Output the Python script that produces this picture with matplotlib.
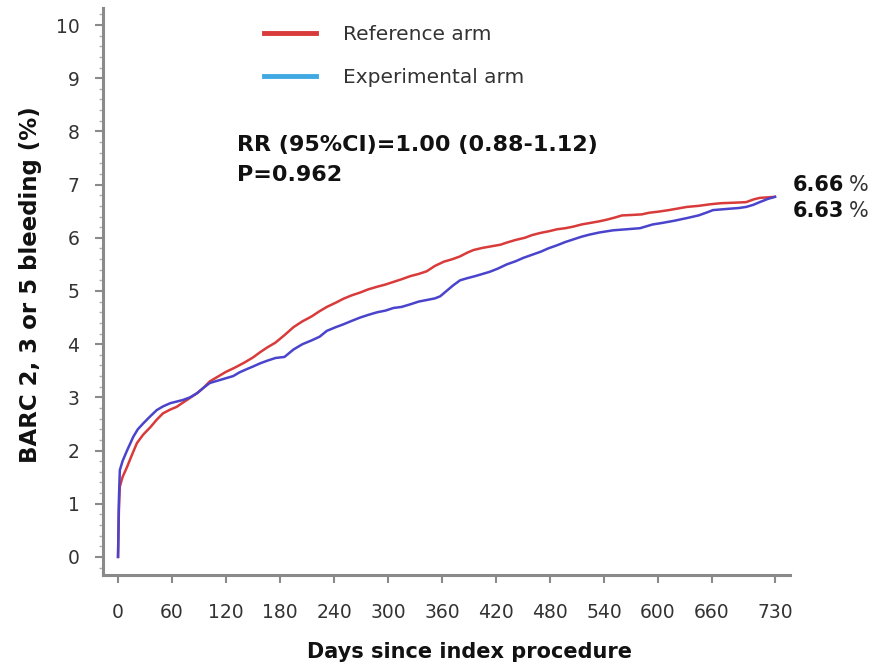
import matplotlib
matplotlib.use("Agg")
import matplotlib.pyplot as plt
from matplotlib.lines import Line2D
from matplotlib.ticker import MultipleLocator

# ---- data ----
ref_days = [0, 1, 2, 5, 10, 15, 21, 28, 36, 43, 50, 58, 65, 72, 80, 88, 95, 102, 110, 120,
            130, 140, 150, 158, 166, 175, 185, 195, 205, 215, 224, 232, 242, 250, 260, 269,
            278, 288, 297, 306, 315, 325, 334, 343, 352, 362, 372, 380, 388, 395, 405, 415,
            425, 432, 442, 452, 460, 469, 478, 488, 497, 506, 515, 525, 535, 543, 552, 560,
            572, 582, 590, 600, 612, 622, 632, 645, 658, 670, 685, 698, 706, 713, 722, 730]
ref_vals = [0, 0.9, 1.32, 1.5, 1.69, 1.9, 2.14, 2.3, 2.44, 2.58, 2.7, 2.77, 2.82, 2.9, 2.99,
            3.08, 3.18, 3.3, 3.38, 3.48, 3.56, 3.65, 3.75, 3.85, 3.94, 4.03, 4.17, 4.32, 4.43,
            4.52, 4.62, 4.7, 4.78, 4.85, 4.92, 4.97, 5.03, 5.08, 5.12, 5.17, 5.22, 5.28, 5.32,
            5.37, 5.47, 5.55, 5.6, 5.65, 5.72, 5.77, 5.81, 5.84, 5.87, 5.91, 5.96, 6.0, 6.05,
            6.09, 6.12, 6.16, 6.18, 6.21, 6.25, 6.28, 6.31, 6.34, 6.38, 6.42, 6.43, 6.44, 6.47,
            6.49, 6.52, 6.55, 6.58, 6.6, 6.63, 6.65, 6.66, 6.67, 6.72, 6.75, 6.76, 6.77]

exp_days = [0, 1, 2, 5, 10, 17, 22, 28, 35, 43, 50, 58, 65, 72, 80, 88, 95, 102, 110, 120,
            128, 135, 143, 150, 158, 166, 175, 185, 195, 205, 215, 224, 232, 242, 250, 260,
            269, 278, 288, 297, 306, 315, 325, 334, 343, 352, 358, 365, 372, 380, 388, 397,
            405, 413, 422, 432, 442, 450, 460, 470, 478, 488, 497, 506, 515, 524, 535, 550,
            565, 580, 594, 605, 618, 632, 645, 655, 661, 675, 690, 698, 706, 713, 722, 730]
exp_vals = [0, 1.1, 1.63, 1.8, 2.0, 2.26, 2.4, 2.51, 2.63, 2.76, 2.83, 2.89, 2.92, 2.95, 3.0,
            3.08, 3.18, 3.27, 3.31, 3.36, 3.4, 3.47, 3.53, 3.58, 3.64, 3.69, 3.74, 3.76, 3.9,
            4.0, 4.07, 4.14, 4.25, 4.32, 4.37, 4.44, 4.5, 4.55, 4.6, 4.63, 4.68, 4.7, 4.75,
            4.8, 4.83, 4.86, 4.9, 5.0, 5.1, 5.2, 5.24, 5.28, 5.32, 5.36, 5.42, 5.5, 5.56, 5.62,
            5.68, 5.74, 5.8, 5.86, 5.92, 5.97, 6.02, 6.06, 6.1, 6.14, 6.16, 6.18, 6.25, 6.28,
            6.32, 6.37, 6.42, 6.48, 6.52, 6.54, 6.56, 6.58, 6.62, 6.67, 6.73, 6.77]

x_ticks = [0, 60, 120, 180, 240, 300, 360, 420, 480, 540, 600, 660, 730]
y_ticks = [0, 1, 2, 3, 4, 5, 6, 7, 8, 9, 10]
series_names = ["Reference arm", "Experimental arm"]
final_labels = ["6.66", "6.63"]
stats_text = ["RR (95%CI)=1.00 (0.88-1.12)", "P=0.962"]

# ---- figure ----
W, H = 884, 670
fig = plt.figure(figsize=(W / 100, H / 100), dpi=100)
plt.rcParams['font.family'] = ['DejaVu Sans']

left, right, bottom, top = 103, 790, 575, 8
ax = fig.add_axes([left / W, 1 - bottom / H, (right - left) / W, (bottom - top) / H])

red = '#d93a3a'
blue_curve = '#4a44cc'
blue_legend = '#40a8e2'

ax.plot(ref_days, ref_vals, color=red, lw=1.8)
ax.plot(exp_days, exp_vals, color=blue_curve, lw=1.8)

ax.set_xlim(-16.7, 746.7)
ax.set_ylim(-0.34, 10.32)

for s in ['top', 'right']:
    ax.spines[s].set_visible(False)
for s in ['left', 'bottom']:
    ax.spines[s].set_color('#8a8a8a')
    ax.spines[s].set_linewidth(2.2)

ax.set_xticks(x_ticks)
ax.set_yticks(y_ticks)
ax.yaxis.set_minor_locator(MultipleLocator(0.2))
ax.tick_params(axis='both', which='major', colors='#8a8a8a', length=6, width=1.5,
               labelcolor='#333333', labelsize=13.5)
ax.tick_params(axis='y', which='major', pad=11)
ax.tick_params(axis='x', which='major', pad=14)
ax.tick_params(axis='y', which='minor', colors='#b0b0b0', length=3, width=1)

ax.set_ylabel("BARC 2, 3 or 5 bleeding (%)", fontsize=16.5, fontweight='bold',
              color='#111111', va='center', ha='center')
ax.yaxis.set_label_coords((31 - left) / (right - left), (bottom - 285) / (bottom - top))
ax.set_xlabel("Days since index procedure", fontsize=15, fontweight='bold',
              color='#111111', va='center', ha='center')
ax.xaxis.set_label_coords((470 - left) / (right - left), -(652 - bottom) / (bottom - top))

# legend (proxy handles)
handles = [Line2D([], [], color=red, lw=3.5), Line2D([], [], color=blue_legend, lw=3.5)]
fig.legend(handles, series_names, loc='upper left',
           bbox_to_anchor=(246 / W, 1 - 7 / H), frameon=False, fontsize=14.5,
           handlelength=2.6, handletextpad=1.3, labelspacing=1.2, labelcolor='#333333')

# stats text
fig.text(237 / W, 1 - 145 / H, stats_text[0], fontsize=16, fontweight='bold',
         color='#111111', va='center', ha='left')
fig.text(237 / W, 1 - 175 / H, stats_text[1], fontsize=16, fontweight='bold',
         color='#111111', va='center', ha='left')

# end-of-curve labels
for lab, yp in zip(final_labels, [185, 211]):
    fig.text(793 / W, 1 - yp / H, lab, fontsize=15, fontweight='bold',
             color='#111111', va='center', ha='left')
    fig.text(849 / W, 1 - yp / H, "%", fontsize=15, color='#333333', va='center', ha='left')

fig.savefig("out.png", dpi=100)
